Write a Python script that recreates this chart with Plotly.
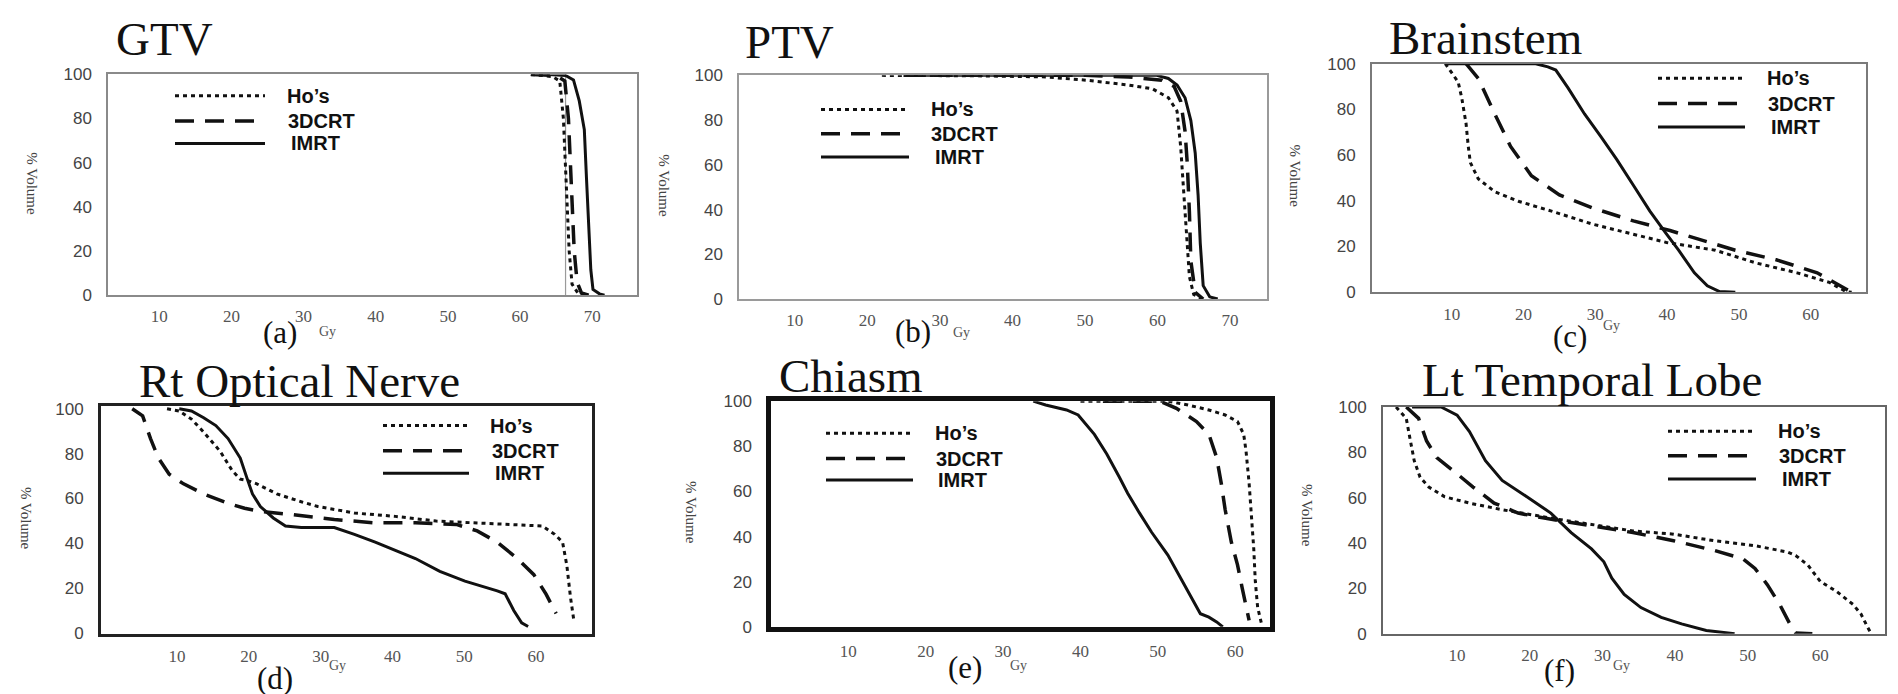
import plotly.graph_objects as go

W, H = 1898, 694

# ---------------- data (dose in Gy, % volume) ----------------
gtv_hos_x = [61.5, 64.5, 65.5, 66.0, 66.4, 66.8, 67.2, 68.0, 69.0]
gtv_hos_y = [100, 99, 97, 80, 50, 20, 5, 1, 0]
gtv_3dcrt_x = [61.5, 65.0, 66.2, 66.7, 67.1, 67.5, 67.9, 68.5, 69.5]
gtv_3dcrt_y = [100, 99.5, 97, 80, 50, 20, 6, 1, 0]
gtv_imrt_x = [61.5, 64.0, 66.3, 67.4, 68.2, 68.9, 69.2, 69.5, 69.8, 70.1, 71.0, 71.7]
gtv_imrt_y = [100, 100, 99.5, 97.5, 88, 75, 53, 30, 11.5, 2.6, 0.6, 0]
gtv_ref_dose = [66.3]

ptv_hos_x = [22, 35, 44.6, 50.3, 55.9, 59.3, 61.5, 62.7, 63.2, 63.5, 63.8, 64.1, 64.4, 65.0, 66.2]
ptv_hos_y = [100, 99.8, 99.3, 97.8, 95.7, 94, 90, 84, 68, 54, 39, 25, 10, 2, 0]
ptv_3dcrt_x = [25, 50, 56, 60.6, 62.3, 63.2, 63.8, 64.1, 64.4, 64.6, 65.2, 66.3]
ptv_3dcrt_y = [100, 100, 99.3, 97.8, 95, 88.4, 75, 61, 39, 17, 3, 0]
ptv_imrt_x = [25, 59.9, 61.5, 62.7, 63.8, 64.6, 65.2, 65.6, 65.9, 66.3, 67.2, 68.3]
ptv_imrt_y = [100, 100, 98.6, 95.7, 90, 79.8, 65.3, 46.5, 24.9, 6, 1, 0]

bs_hos_x = [9.1, 10.9, 11.4, 12.0, 12.3, 12.6, 13.7, 16.0, 19.4, 23.9, 29.6, 35.3, 39.9, 46.7, 52.4, 58.1, 62.6, 64.9, 65.7]
bs_hos_y = [100, 92, 85, 73.8, 64, 56.7, 49.6, 44, 39.7, 35.5, 29.8, 25.5, 21.8, 18.4, 12.8, 8.5, 4.3, 0.3, 0]
bs_3dcrt_x = [12.0, 13.7, 16.0, 18.2, 21.1, 25.0, 29.6, 35.3, 40.4, 46.7, 49.5, 55.2, 60.9, 64.9, 65.7]
bs_3dcrt_y = [100, 93.6, 78, 63.8, 51, 42.6, 36.9, 31.2, 27, 21.3, 18.4, 14.2, 8.5, 1.4, 0]
bs_imrt_x = [9.1, 21.7, 23.4, 24.5, 26.2, 28.5, 30.8, 33.0, 35.3, 37.6, 39.9, 41.6, 43.8, 45.6, 47.3, 49.5]
bs_imrt_y = [100, 100, 98.6, 97.2, 89.4, 78, 68, 58, 46.8, 35.5, 25.5, 18.4, 8.5, 2.8, 0.3, 0]

on_hos_x = [8.6, 10.3, 12.0, 13.7, 16.0, 17.7, 18.8, 19.9, 21.1, 23.9, 27.3, 29.6, 34.7, 40.4, 46.1, 51.8, 57.4, 60.9, 62.6, 63.7, 64.3, 64.8, 65.3]
on_hos_y = [100, 99, 95.4, 89.6, 81, 72.3, 68.6, 67.9, 66.5, 62, 58.5, 56.4, 53.5, 52, 49.9, 49.1, 48.4, 47.7, 44, 40.5, 30, 16, 5]
on_3dcrt_x = [3.75, 5.2, 6.3, 7.4, 8.9, 10.9, 13.7, 17.1, 19.4, 21.6, 26.2, 31.9, 37.6, 43.2, 48.9, 51.8, 54.6, 57.4, 59.7, 61.4, 62.8]
on_3dcrt_y = [100, 96.8, 86.7, 78, 70.8, 66.5, 62, 57.8, 55.6, 54.2, 52.7, 50.6, 49.1, 49.1, 48.4, 45.5, 40.5, 33.2, 26, 17.3, 8.7]
on_imrt_x = [10.3, 12.0, 13.7, 15.4, 17.1, 18.8, 19.7, 20.5, 21.6, 23.4, 25.1, 27.3, 31.9, 34.7, 37.6, 40.4, 43.2, 46.6, 50.1, 54.6, 55.7, 56.9, 58.0, 58.9]
on_imrt_y = [100, 99, 96, 92.5, 86.7, 78, 69.4, 62, 56.4, 51.3, 47.7, 47, 47, 44, 40.5, 36.8, 33.2, 27.5, 23.1, 18.8, 17.5, 10, 4.5, 2.9]

ch_hos_x = [40, 51.3, 53.9, 56.6, 58.7, 60.3, 61.1, 61.4, 61.8, 62.1, 62.4, 62.6, 62.9, 63.4]
ch_hos_y = [100, 100, 98.3, 96.1, 93.9, 91, 85.3, 78, 63.6, 49, 34.7, 20.2, 8.7, 1.4]
ch_3dcrt_x = [42.9, 50.3, 52.4, 55.0, 56.6, 57.6, 58.2, 58.7, 59.5, 60.3, 60.9, 61.6, 61.8]
ch_3dcrt_y = [100, 100, 96.8, 91, 85.3, 75.1, 63.6, 52, 37.6, 27.5, 17.3, 7.2, 2.9]
ch_imrt_x = [33.9, 35.5, 38.2, 39.7, 41.8, 43.4, 45.0, 46.1, 47.6, 49.2, 51.3, 52.9, 54.5, 55.5, 56.6, 57.6, 58.4]
ch_imrt_y = [100, 98.3, 96.1, 93.9, 85.3, 76.6, 66.5, 59.2, 50.6, 41.9, 31.8, 21.7, 11.6, 5.8, 4.3, 2.2, 0]

tl_hos_x = [1.6, 3.0, 3.5, 4.1, 4.9, 6.1, 8.3, 11.7, 16.2, 20.1, 24.0, 28.5, 34.2, 39.8, 45.4, 51.0, 55.5, 56.6, 58.3, 60.0, 62.2, 64.5, 65.6, 66.5, 67.0]
tl_hos_y = [100, 95, 86.3, 76.3, 69, 64.7, 60.4, 57.6, 54.7, 52.5, 50.4, 48.2, 45.3, 43.9, 41, 38.8, 36, 34.5, 30.2, 23, 18.7, 12.9, 8.6, 2.9, 0]
tl_3dcrt_x = [3.0, 4.7, 5.8, 7.2, 10.0, 12.2, 15.1, 18.4, 21.8, 28.5, 34.2, 39.8, 45.4, 49.3, 51.0, 52.7, 54.4, 55.8, 56.6, 58.9]
tl_3dcrt_y = [100, 95, 85, 77.7, 70.5, 64.7, 57.6, 53.2, 51.1, 47.5, 44.6, 41, 36.7, 33.1, 28.8, 21.6, 12.9, 4.3, 0.3, 0]
tl_imrt_x = [3.8, 7.8, 10.0, 11.7, 13.9, 16.2, 19.6, 22.9, 25.7, 28.5, 30.2, 31.3, 33.0, 35.3, 38.1, 40.9, 44.3, 48.2]
tl_imrt_y = [100, 100, 96.4, 89.2, 76.3, 67.6, 60.4, 53.2, 44.6, 37.4, 31.7, 24.5, 17.3, 11.5, 7.2, 4.3, 1.4, 0]

panel_titles = ["GTV", "PTV", "Brainstem", "Rt Optical Nerve", "Chiasm", "Lt Temporal Lobe"]
panel_letters = ["(a)", "(b)", "(c)", "(d)", "(e)", "(f)"]
series_names = ["Ho\u2019s", "3DCRT", "IMRT"]
x_tick_vals = [10, 20, 30, 40, 50, 60, 70]
y_tick_vals = [0, 20, 40, 60, 80, 100]

panel_data = [
    [(gtv_hos_x, gtv_hos_y), (gtv_3dcrt_x, gtv_3dcrt_y), (gtv_imrt_x, gtv_imrt_y)],
    [(ptv_hos_x, ptv_hos_y), (ptv_3dcrt_x, ptv_3dcrt_y), (ptv_imrt_x, ptv_imrt_y)],
    [(bs_hos_x, bs_hos_y), (bs_3dcrt_x, bs_3dcrt_y), (bs_imrt_x, bs_imrt_y)],
    [(on_hos_x, on_hos_y), (on_3dcrt_x, on_3dcrt_y), (on_imrt_x, on_imrt_y)],
    [(ch_hos_x, ch_hos_y), (ch_3dcrt_x, ch_3dcrt_y), (ch_imrt_x, ch_imrt_y)],
    [(tl_hos_x, tl_hos_y), (tl_3dcrt_x, tl_3dcrt_y), (tl_imrt_x, tl_imrt_y)],
]

# ---------------- layout configuration (pixels) ----------------
frames = [(100, 629, 59, 286), (731, 1259, 60, 290), (1364, 1858, 48, 283),
          (93, 584, 400, 634), (763, 1262, 395, 627), (1375, 1877, 401, 634)]
x_ranges = [[2.9, 76.2], [2.3, 75.1], [-1.1, 67.7], [-0.6, 67.8], [0, 64.5], [-0.2, 68.9]]
y_ranges = [[0, 100], [0, 100], [0, 100], [-0.3, 101.2], [0, 100], [0, 100]]
frame_colors = ["#8a8a8a", "#9a9a9a", "#7a7a7a", "#222222", "#111111", "#666666"]
frame_widths = [1.5, 1.5, 2, 3, 4.5, 2]

title_pos = [(156, 23), (781, 26), (1477, 22), (291, 374), (843, 369), (1584, 373)]
letter_pos = [(272, 324), (905, 323), (1562, 329), (267, 680), (957, 669), (1551, 672)]
gy_pos = [(319, 323), (953, 324), (1603, 317), (329, 667), (1010, 667), (1613, 667)]
vol_pos = [(24, 171), (656, 173), (1287, 163), (18, 515), (683, 509), (1299, 512)]
leg_line = [(167, 257), (813, 901), (1650, 1737), (375, 461), (818, 905), (1660, 1748)]
leg_rows = [(81, 107, 130), (95, 120, 144), (63, 89, 113), (420, 446, 469), (428, 454, 476), (426, 451, 475)]
leg_text_dc = [43, 56, 50]

styles = [dict(dash="4px,4px", width=3), dict(dash="19px,11px", width=3.5), dict(dash="solid", width=3)]
INK = "#111111"

def fx(p):
    return p / W

def fy(p):
    return 1 - p / H

fig = go.Figure()
layout = dict(width=W, height=H, margin=dict(l=0, r=0, t=0, b=0),
              paper_bgcolor="white", plot_bgcolor="white", showlegend=False)
annotations = []
shapes = []

# faint vertical reference line in the GTV panel
for d in gtv_ref_dose:
    shapes.append(dict(type="line", xref="x", yref="y domain", x0=d, x1=d, y0=0, y1=1,
                       line=dict(color="#9a9a9a", width=1.2), layer="below"))

for i in range(6):
    n = i + 1
    sx = "" if n == 1 else str(n)
    l, r, t, b = frames[i]
    for (xs, ys), st, nm in zip(panel_data[i], styles, series_names):
        fig.add_trace(go.Scatter(x=xs, y=ys, mode="lines", name=nm,
                                 xaxis="x" + sx, yaxis="y" + sx, cliponaxis=False,
                                 line=dict(color=INK, width=st["width"], dash=st["dash"])))
    layout["xaxis" + sx] = dict(domain=[fx(l), fx(r)], range=x_ranges[i], anchor="y" + sx,
                                showgrid=False, zeroline=False, showline=True, mirror=True,
                                linecolor=frame_colors[i], linewidth=frame_widths[i],
                                tickvals=x_tick_vals, ticks="", ticklabelstandoff=5,
                                tickfont=dict(family="Liberation Serif", size=17, color="#555555"))
    layout["yaxis" + sx] = dict(domain=[fy(b), fy(t)], range=y_ranges[i], anchor="x" + sx,
                                showgrid=False, zeroline=False, showline=True, mirror=True,
                                linecolor=frame_colors[i], linewidth=frame_widths[i],
                                tickvals=y_tick_vals, ticks="", ticklabelstandoff=11,
                                tickfont=dict(family="Liberation Sans", size=17, color="#444444"))
    annotations.append(dict(text=panel_titles[i], x=fx(title_pos[i][0]), y=fy(title_pos[i][1]),
                            xref="paper", yref="paper", xanchor="center", yanchor="middle",
                            showarrow=False, font=dict(family="Liberation Serif", size=47, color=INK)))
    annotations.append(dict(text=panel_letters[i], x=fx(letter_pos[i][0]), y=fy(letter_pos[i][1]),
                            xref="paper", yref="paper", xanchor="center", yanchor="middle",
                            showarrow=False, font=dict(family="Liberation Serif", size=31, color=INK)))
    annotations.append(dict(text="Gy", x=fx(gy_pos[i][0]), y=fy(gy_pos[i][1]),
                            xref="paper", yref="paper", xanchor="center", yanchor="middle",
                            showarrow=False, font=dict(family="Liberation Serif", size=14, color="#555555")))
    annotations.append(dict(text="% Volume", x=fx(vol_pos[i][0]), y=fy(vol_pos[i][1]),
                            xref="paper", yref="paper", xanchor="center", yanchor="middle",
                            textangle=90, showarrow=False,
                            font=dict(family="Liberation Serif", size=15, color="#444444")))
    x0, x1 = leg_line[i]
    for k in range(3):
        yy = leg_rows[i][k]
        shapes.append(dict(type="line", xref="paper", yref="paper",
                           x0=fx(x0), x1=fx(x1), y0=fy(yy), y1=fy(yy),
                           line=dict(color=INK, width=styles[k]["width"], dash=styles[k]["dash"])))
        annotations.append(dict(text="<b>" + series_names[k] + "</b>", x=fx(x1 + leg_text_dc[k]), y=fy(yy),
                                xref="paper", yref="paper", xanchor="center", yanchor="middle",
                                showarrow=False, font=dict(family="Liberation Sans", size=20, color=INK)))

# tick label "70" of the Brainstem panel sits outside its frame
annotations.append(dict(text="70", x=70, y=fy(frames[2][3] + 14), xref="x3", yref="paper",
                        xanchor="center", yanchor="middle", showarrow=False,
                        font=dict(family="Liberation Serif", size=17, color="#555555")))

layout["annotations"] = annotations
layout["shapes"] = shapes
fig.update_layout(**layout)
fig.write_html("out.html")
